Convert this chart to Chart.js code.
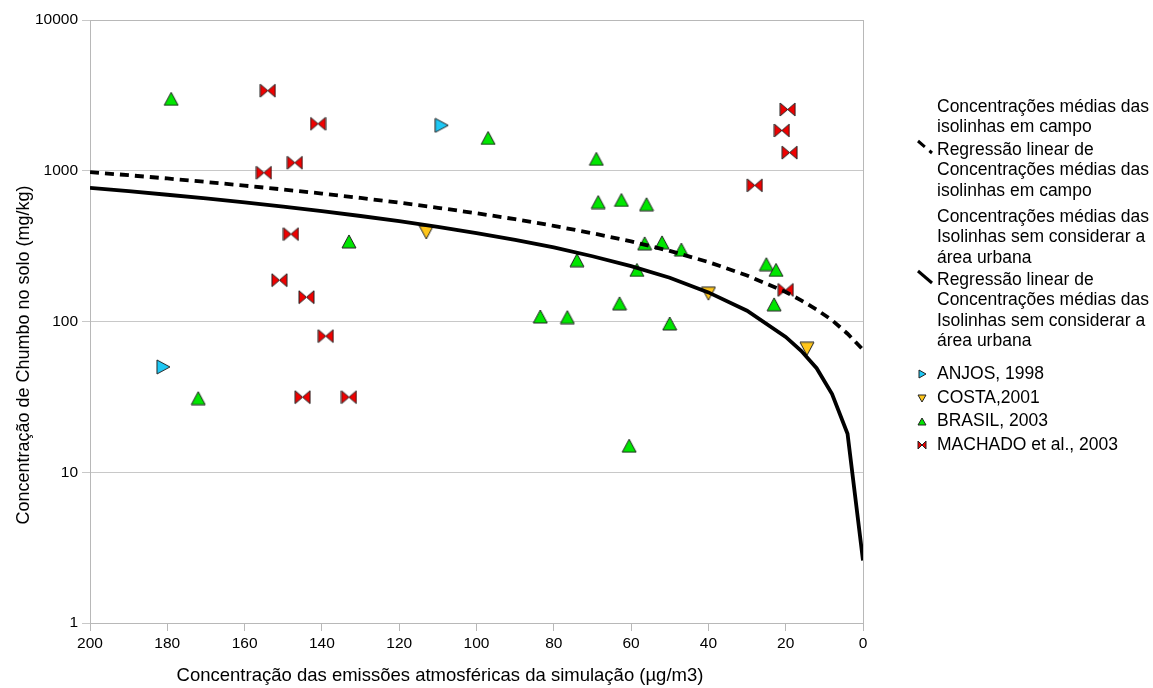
<!DOCTYPE html>
<html>
<head>
<meta charset="utf-8">
<script src="https://cdn.jsdelivr.net/npm/chart.js@4/dist/chart.umd.min.js"></script>
<style>
  html, body { margin: 0; padding: 0; background: #fff; }
  #caixa { width: 1153px; height: 688px; position: relative; }
</style>
</head>
<body>
<div id="caixa"><canvas id="grafico"></canvas></div>
<script>
// ---- dados ----
const anjosX = [181, 109];
const anjosY = [50, 2000];

const costaX = [113, 40, 14.5];
const costaY = [390, 153, 66];

const brasilX = [179, 133, 172, 97, 69, 68.5, 62.5, 56, 56.5, 52, 47, 74, 58.5, 25, 22.5, 23, 63, 83.5, 76.5, 50, 60.5];
const brasilY = [3000, 340, 31, 1650, 1200, 620, 640, 600, 330, 335, 300, 255, 220, 240, 220, 130, 132, 108, 107, 97, 15];

const machadoX = [154, 141, 147, 155, 148, 151, 144, 139, 145, 133, 19.5, 21, 19, 28, 20];
const machadoY = [3400, 2050, 1130, 970, 380, 188, 145, 80, 31.5, 31.5, 2550, 1850, 1320, 800, 162];

// curvas de regressão (vértices)
const regrX = [200, 190, 180, 170, 160, 150, 140, 130, 120, 110, 100, 90, 80, 70, 60, 50, 40, 30, 20, 16, 12, 8, 4, 0];
const regrCampoY = [980, 934, 889, 843, 797, 751, 706, 660, 614, 568, 523, 477, 431, 385, 340, 294, 248, 202, 157, 138, 120, 102, 83, 65];
const regrUrbanaY = [770, 732, 693, 655, 617, 578, 540, 501, 463, 425, 386, 348, 310, 271, 233, 195, 156, 118, 79, 64, 49, 33, 18, 2.6];

const ticksY = [1, 10, 100, 1000, 10000];
const ticksX = [0, 20, 40, 60, 80, 100, 120, 140, 160, 180, 200];

const nomes = [
  'Concentrações médias das\nisolinhas em campo',
  'Regressão linear de\nConcentrações médias das\nisolinhas em campo',
  'Concentrações médias das\nIsolinhas sem considerar a\nárea urbana',
  'Regressão linear de\nConcentrações médias das\nIsolinhas sem considerar a\nárea urbana',
  'ANJOS, 1998',
  'COSTA,2001',
  'BRASIL, 2003',
  'MACHADO et al., 2003'
];
const tituloX = 'Concentração das emissões atmosféricas da simulação (µg/m3)';
const tituloY = 'Concentração de Chumbo no solo (mg/kg)';

const FONTE = '"Liberation Sans", Arial, sans-serif';

// ---- marcadores desenhados em canvas pequenos ----
function marcador(tipo, w, h, cor) {
  const c = document.createElement('canvas');
  c.width = w + 2; c.height = h + 2;
  const g = c.getContext('2d');
  g.fillStyle = cor;
  g.strokeStyle = '#222';
  g.lineWidth = 1;
  const o = 1;
  const tri = (pts) => {
    g.beginPath();
    g.moveTo(pts[0][0], pts[0][1]);
    for (let i = 1; i < pts.length; i++) g.lineTo(pts[i][0], pts[i][1]);
    g.closePath();
    g.fill();
    g.stroke();
  };
  if (tipo === 'cima') tri([[o + w / 2, o], [o + w, o + h], [o, o + h]]);
  if (tipo === 'baixo') tri([[o, o], [o + w, o], [o + w / 2, o + h]]);
  if (tipo === 'direita') tri([[o, o], [o + w, o + h / 2], [o, o + h]]);
  if (tipo === 'laco') {
    tri([[o, o], [o + w / 2, o + h / 2], [o, o + h]]);
    tri([[o + w, o], [o + w / 2, o + h / 2], [o + w, o + h]]);
  }
  return c;
}

const CIANO = '#1ec8f5', AMARELO = '#ffc61a', VERDE = '#00e600', VERMELHO = '#f00000';

const mAnjos = marcador('direita', 13, 14, CIANO);
const mCosta = marcador('baixo', 14, 13, AMARELO);
const mBrasil = marcador('cima', 14, 13, VERDE);
const mMachado = marcador('laco', 15, 13, VERMELHO);

const lAnjos = marcador('direita', 7, 8, CIANO);
const lCosta = marcador('baixo', 8, 7, AMARELO);
const lBrasil = marcador('cima', 8, 7, VERDE);
const lMachado = marcador('laco', 8, 8, VERMELHO);

function pares(xs, ys) {
  const out = [];
  for (let i = 0; i < xs.length; i++) out.push({ x: xs[i], y: ys[i] });
  return out;
}

// posição vertical da primeira linha de cada item da legenda
const legendaY = [107, 150, 217, 280, 374, 398, 421, 445];

const legendaPlugin = {
  id: 'legendaLateral',
  afterDraw(chart) {
    const ctx = chart.ctx;
    const ds = chart.data.datasets;
    ctx.save();
    ctx.font = '17.5px ' + FONTE;
    ctx.fillStyle = '#000';
    ctx.textBaseline = 'middle';
    ctx.textAlign = 'left';
    for (let i = 0; i < ds.length; i++) {
      const linhas = ds[i].label.split('\n');
      const y0 = legendaY[i];
      linhas.forEach((t, k) => ctx.fillText(t, 937, y0 + k * 20.5));
      const simb = ds[i].simbolo;
      if (simb === 'linha') {
        ctx.beginPath();
        ctx.strokeStyle = '#000';
        ctx.lineWidth = 3;
        ctx.setLineDash(ds[i].borderDash || []);
        ctx.moveTo(918, y0 - 9);
        ctx.lineTo(932, y0 + 3);
        ctx.stroke();
        ctx.setLineDash([]);
      } else if (simb) {
        ctx.drawImage(simb, Math.round(922 - simb.width / 2), Math.round(y0 - simb.height / 2));
      }
    }
    // títulos dos eixos
    ctx.font = '18.5px ' + FONTE;
    ctx.textAlign = 'center';
    ctx.fillText(tituloX, 440, 676);
    ctx.translate(24, 355);
    ctx.rotate(-Math.PI / 2);
    ctx.font = '18px ' + FONTE;
    ctx.fillText(tituloY, 0, 0);
    ctx.restore();
  }
};

const molduraPlugin = {
  id: 'moldura',
  beforeDatasetsDraw(chart) {
    const a = chart.chartArea;
    const ctx = chart.ctx;
    ctx.save();
    ctx.strokeStyle = '#b8b8b8';
    ctx.lineWidth = 1;
    ctx.strokeRect(Math.round(a.left) + 0.5, Math.round(a.top) + 0.5, Math.round(a.right - a.left), Math.round(a.bottom - a.top));
    ctx.restore();
  }
};

const ctx = document.getElementById('grafico').getContext('2d');

new Chart(ctx, {
  type: 'scatter',
  data: {
    datasets: [
      { label: nomes[0], data: [], showLine: false, pointRadius: 0, simbolo: null },
      {
        label: nomes[1], data: pares(regrX, regrCampoY), showLine: true, pointRadius: 0,
        borderColor: '#000', borderWidth: 3.8, borderDash: [9, 6], simbolo: 'linha'
      },
      { label: nomes[2], data: [], showLine: false, pointRadius: 0, simbolo: null },
      {
        label: nomes[3], data: pares(regrX, regrUrbanaY), showLine: true, pointRadius: 0,
        borderColor: '#000', borderWidth: 3.8, simbolo: 'linha'
      },
      { label: nomes[4], data: pares(anjosX, anjosY), pointStyle: mAnjos, pointRadius: 6, simbolo: lAnjos },
      { label: nomes[5], data: pares(costaX, costaY), pointStyle: mCosta, pointRadius: 6, simbolo: lCosta },
      { label: nomes[6], data: pares(brasilX, brasilY), pointStyle: mBrasil, pointRadius: 6, simbolo: lBrasil },
      { label: nomes[7], data: pares(machadoX, machadoY), pointStyle: mMachado, pointRadius: 6, simbolo: lMachado }
    ]
  },
  options: {
    responsive: true,
    maintainAspectRatio: false,
    animation: false,
    layout: { padding: { left: 0, right: 290, top: 20, bottom: 0 } },
    plugins: { legend: { display: false }, tooltip: { enabled: false } },
    scales: {
      x: {
        type: 'linear',
        reverse: true,
        min: 0, max: 200,
        afterBuildTicks: (s) => { s.ticks = ticksX.map(v => ({ value: v })); },
        afterFit: (s) => { s.height = 65; },
        grid: { drawOnChartArea: false, drawTicks: true, tickLength: 8, color: '#b8b8b8' },
        border: { color: '#b8b8b8' },
        ticks: {
          padding: 3, color: '#000', maxRotation: 0,
          font: { family: FONTE, size: 15.5 },
          callback: (v) => String(v)
        }
      },
      y: {
        type: 'logarithmic',
        min: 1, max: 10000,
        afterBuildTicks: (s) => { s.ticks = ticksY.map(v => ({ value: v })); },
        afterFit: (s) => { s.width = 90; },
        grid: { color: '#c8c8c8', tickLength: 8, drawTicks: true },
        border: { color: '#b8b8b8' },
        ticks: {
          padding: 4, color: '#000',
          font: { family: FONTE, size: 15.5 },
          callback: (v) => String(v)
        }
      }
    }
  },
  plugins: [molduraPlugin, legendaPlugin]
});
</script>
</body>
</html>
